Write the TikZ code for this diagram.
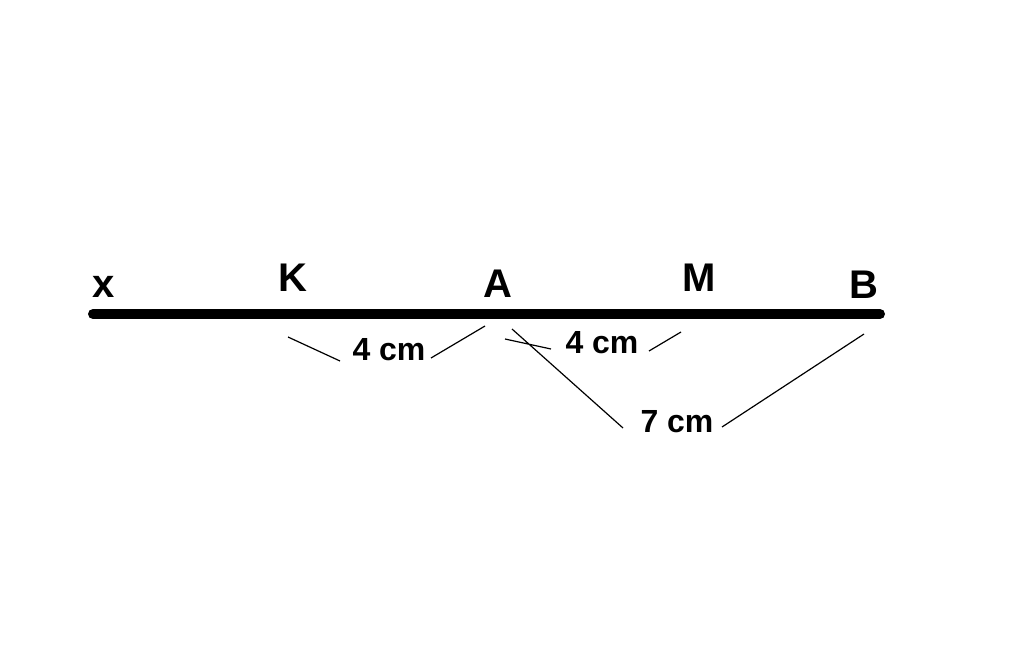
\documentclass[tikz,border=0pt]{standalone}
\usepackage{fontspec}
\setmainfont{Liberation Sans}
\usetikzlibrary{calc,positioning}

\begin{document}
\begin{tikzpicture}[x=1pt,y=-1pt,
  pointlab/.style={anchor=base,inner sep=0pt,font=\fontsize{40}{48}\selectfont\bfseries},
  dimlab/.style={anchor=base,inner sep=0pt,font=\fontsize{32}{38}\selectfont\bfseries},
  dimline/.style={line width=1.2pt},
  every node/.style={scale=1.}]
\useasboundingbox (0,0) rectangle (1024,650);
% the line xB
\coordinate (Lx) at (93,314);
\coordinate (LB) at (880,314);
\draw[line width=10pt,line cap=round] (Lx) -- (LB);
% points
\node[pointlab] (X) at (104,297) {x};
\node[pointlab] (K) at (293,291) {K};
\node[pointlab] (A) at (498,297) {A};
\node[pointlab] (M) at (699,291) {M};
\node[pointlab] (B) at (864,298) {B};
% lengths
\node[dimlab] (KA) at (389,360) {4 cm};
\node[dimlab] (AM) at (602,353) {4 cm};
\node[dimlab] (AB) at (677,432) {7 cm};
\coordinate (KA1) at (288,337);
\coordinate (KA2) at (340,361);
\coordinate (KA3) at (431,358);
\coordinate (KA4) at (485,326);
\coordinate (AM1) at (505,339);
\coordinate (AM2) at (551,349);
\coordinate (AM3) at (649,351);
\coordinate (AM4) at (681,332);
\coordinate (AB1) at (512,329);
\coordinate (AB2) at (623,428);
\coordinate (AB3) at (722,427);
\coordinate (AB4) at (864,334);
\draw[dimline]
     (KA1) -- (KA2)
     (KA3) -- (KA4)
     (AM1) -- (AM2)
     (AM3) -- (AM4)
     (AB1) -- (AB2)
     (AB3) -- (AB4);
\end{tikzpicture}
\end{document}
